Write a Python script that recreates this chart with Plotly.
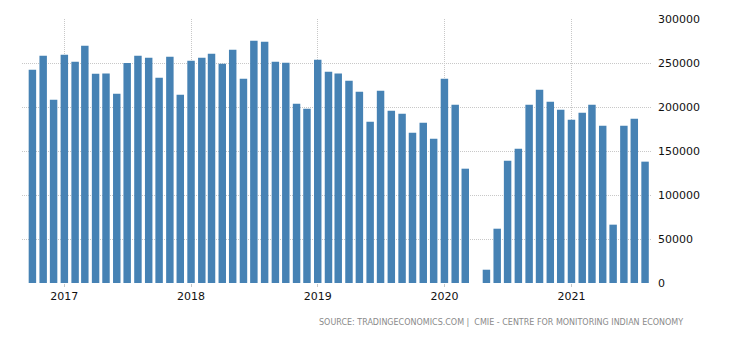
import plotly.graph_objects as go
import pandas as pd

months = pd.date_range("2016-10-01", "2021-08-01", freq="MS").strftime("%Y-%m-%d").tolist()
values = [
    242400, 258300, 208300,
    259400, 251500, 269700, 237900, 238000, 215100, 250000, 258300, 256000, 233300, 257200, 214000,
    252600, 256000, 260600, 249200, 265100, 232200, 275400, 274200, 251500, 250300, 203700, 198000,
    253700, 240100, 238000, 229900, 217400, 183300, 218500, 195800, 192400, 170800, 182200, 164000,
    232200, 202600, 129900, None, 15100, 61700, 139000, 152600, 202600, 219700, 206000, 197000,
    185600, 193500, 202600, 178800, 66300, 178800, 186700, 137900,
]
year_ticks = ["2017-01-01", "2018-01-01", "2019-01-01", "2020-01-01", "2021-01-01"]
year_labels = ["2017", "2018", "2019", "2020", "2021"]
y_ticks = [0, 50000, 100000, 150000, 200000, 250000, 300000]
source = "SOURCE: TRADINGECONOMICS.COM |  CMIE - CENTRE FOR MONITORING INDIAN ECONOMY"

fig = go.Figure(go.Bar(
    x=months, y=values,
    marker=dict(color="#4682B4", line=dict(width=0)),
    width=21.5 * 86400000,
))

fig.update_layout(
    width=730, height=340,
    margin=dict(l=22, r=78, t=19, b=57),
    plot_bgcolor="white", paper_bgcolor="white",
    showlegend=False,
    font=dict(family="DejaVu Sans, sans-serif", color="#111", size=11),
    xaxis=dict(
        type="date",
        range=["2016-09-01", "2021-08-21"],
        tickvals=year_ticks, ticktext=year_labels,
        showgrid=True, gridcolor="#c8c8c8", griddash="1px,1px", gridwidth=1,
        ticks="outside", ticklen=3, tickcolor="#c8c8c8",
        showline=False, zeroline=False,
        tickfont=dict(size=11, color="#111"),
    ),
    yaxis=dict(
        side="right",
        range=[0, 300000],
        tickvals=y_ticks, ticktext=[str(v) for v in y_ticks],
        showgrid=True, gridcolor="#c8c8c8", griddash="1px,1px", gridwidth=1,
        zeroline=False, showline=False,
        tickfont=dict(size=11, color="#111"),
        ticks="", ticklabelstandoff=5,
    ),
    annotations=[dict(
        text=source, xref="paper", yref="paper",
        x=1.0524, y=-0.1515, xanchor="right", yanchor="middle",
        showarrow=False,
        font=dict(size=8, color="#8a8a8a", family="DejaVu Sans, sans-serif"),
    )],
)

fig.write_html("out.html")
